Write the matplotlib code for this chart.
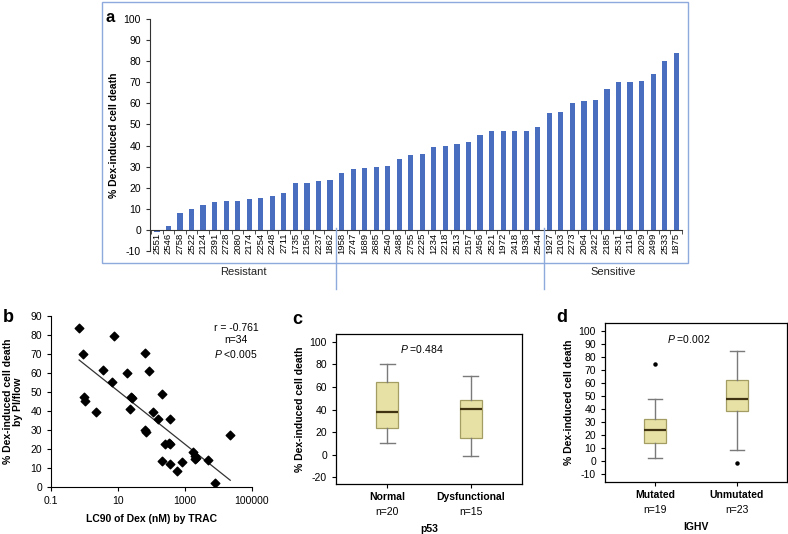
import numpy as np
import matplotlib
matplotlib.use("Agg")
import matplotlib.pyplot as plt
from matplotlib.patches import Rectangle
from matplotlib.lines import Line2D

plt.rcParams['font.family'] = ['Liberation Sans', 'DejaVu Sans']
plt.rcParams['axes.unicode_minus'] = False
plt.rcParams['mathtext.fontset'] = 'custom'
plt.rcParams['mathtext.it'] = 'Liberation Sans:italic'
plt.rcParams['mathtext.rm'] = 'Liberation Sans'

# -----------------------------
# Data
# -----------------------------
patients = ["2551", "2546", "2758", "2522", "2124", "2391", "2728", "2080", "2174", "2254",
            "2248", "2711", "1735", "2156", "2237", "1862", "1958", "2747", "1689", "2685",
            "2540", "2488", "2755", "2225", "1234", "2218", "2513", "2157", "2456", "2521",
            "1972", "2418", "1938", "2544", "1927", "2103", "2273", "2064", "2422", "2185",
            "2531", "2116", "2029", "2499", "2533", "1875"]
dex_death = [-1.2, 2.0, 8.1, 10.0, 11.8, 13.0, 13.5, 13.8, 14.6, 15.3,
             15.9, 17.7, 22.3, 22.4, 23.4, 23.6, 27.0, 28.8, 29.3, 29.6,
             30.4, 33.4, 35.5, 36.1, 39.3, 39.6, 40.6, 41.7, 44.9, 46.8,
             47.0, 47.0, 47.1, 49.0, 55.3, 56.0, 60.2, 61.3, 61.6, 66.6,
             70.2, 70.2, 70.7, 73.7, 80.1, 83.9]
resistant_end = "1862"
sensitive_start = "1927"

lc90 = [0.69, 0.885, 7.65, 62, 3.67, 85, 18.6, 6.7, 0.95, 1.04,
        2.17, 24, 27, 23, 204, 112, 155, 363, 63, 69,
        245, 324, 363, 209, 355, 575, 794, 1738, 1950, 2050,
        2188, 4900, 7600, 22400]
pi_flow = [83.5, 69.8, 79.6, 70.4, 61.8, 60.9, 60.0, 55.1, 47.4, 45.3,
           39.3, 47.4, 46.7, 41.2, 49.0, 39.6, 35.8, 35.6, 29.8, 28.8,
           22.5, 23.2, 22.5, 13.9, 11.9, 8.4, 13.3, 18.2, 16.5, 14.5,
           15.1, 14.0, 2.1, 27.2]

# box plot summaries: whislo, q1, med, q3, whishi, fliers
p53_groups = ["Normal", "Dysfunctional"]
p53_n = [20, 15]
p53_whislo = [9.8, -1.5]
p53_q1 = [23.8, 14.9]
p53_med = [37.8, 40.2]
p53_q3 = [64.3, 48.5]
p53_whishi = [80.7, 70.2]
p53_fliers = [[], []]

ighv_groups = ["Mutated", "Unmutated"]
ighv_n = [19, 23]
ighv_whislo = [2.3, 8.6]
ighv_q1 = [14.3, 38.5]
ighv_med = [24.0, 47.7]
ighv_q3 = [32.4, 62.2]
ighv_whishi = [47.4, 84.6]
ighv_fliers = [[74.4], [-1.5]]

W, H = 788, 534
fig = plt.figure(figsize=(W / 100, H / 100), dpi=100)


def px_axes(x0, y0, x1, y1):
    # pixel box (left, top, right, bottom) -> figure axes
    return fig.add_axes([x0 / W, 1 - y1 / H, (x1 - x0) / W, (y1 - y0) / H])


def px_text(x, y, s, **kw):
    fig.text(x / W, 1 - y / H, s, **kw)


# -----------------------------
# a) bar chart
# -----------------------------
bar_col = '#4A6EBF'
frame_col = '#8EA9DB'
ax = px_axes(150, 19, 682, 251)
x = np.arange(len(patients))
ax.bar(x, dex_death, width=0.45, color=bar_col)
ax.set_xlim(-0.6, len(patients) - 0.5)
ax.set_ylim(-10, 100)
ax.set_yticks(range(-10, 101, 10))
ax.spines['top'].set_visible(False)
ax.spines['right'].set_visible(False)
ax.spines['bottom'].set_position(('data', 0))
ax.spines['left'].set_color('#333333')
ax.spines['bottom'].set_color('#333333')
ax.set_xticks(x)
ax.set_xticklabels(patients, rotation=90, fontsize=6.8)
ax.set_xticks(np.arange(len(patients) + 1) - 0.5, minor=True)
ax.tick_params(axis='x', which='major', length=0, pad=2)
ax.tick_params(axis='x', which='minor', length=3, direction='out', color='#333333')
ax.tick_params(axis='y', labelsize=7.5, length=3, color='#333333')
ax.set_ylabel('% Dex-induced cell death', fontsize=7.5, fontweight='bold', labelpad=3)

fig.patches.append(Rectangle((102 / W, 1 - 263 / H), (688 - 102) / W, (263 - 2) / H,
                             transform=fig.transFigure, fill=False,
                             edgecolor=frame_col, linewidth=1.0))
for name in [resistant_end, sensitive_start]:
    i = patients.index(name)
    xb = i + 0.5 if name == resistant_end else i - 0.5
    xf = ax.transData.transform((xb, 0))[0] / fig.dpi / fig.get_figwidth()
    fig.lines.append(Line2D([xf, xf], [1 - 228 / H, 1 - 289 / H], transform=fig.transFigure,
                            color=frame_col, linewidth=1.0))
px_text(243, 272, 'Resistant', fontsize=8, ha='center', va='center', color='#222222')
px_text(613, 272, 'Sensitive', fontsize=8, ha='center', va='center', color='#222222')
px_text(110, 18, 'a', fontsize=12, fontweight='bold', ha='center', va='center')

# -----------------------------
# b) scatter LC90 vs % death
# -----------------------------
ax = px_axes(51, 316, 252, 487)
ax.scatter(lc90, pi_flow, marker='D', s=19, color='black', zorder=3)
coef = np.polyfit(np.log10(lc90), pi_flow, 1)
xl = np.array([min(lc90), max(lc90)])
ax.plot(xl, coef[0] * np.log10(xl) + coef[1], color='#333333', linewidth=0.9)
ax.set_xscale('log')
ax.set_xlim(0.1, 100000)
ax.set_ylim(0, 90)
ax.set_xticks([0.1, 10, 1000, 100000])
ax.set_xticklabels(['0.1', '10', '1000', '100000'])
ax.minorticks_off()
ax.set_yticks(range(0, 91, 10))
ax.spines['top'].set_visible(False)
ax.spines['right'].set_visible(False)
ax.tick_params(labelsize=7.5, length=3)
ax.set_xlabel('LC90 of Dex (nM) by TRAC', fontsize=7.5, fontweight='bold', labelpad=6)
ax.set_ylabel('% Dex-induced cell death\nby PI/flow', fontsize=7.5, fontweight='bold',
              labelpad=5, linespacing=1.1)
ax.text(0.92, 0.85, 'r = -0.761\nn=34\n$\\it{P}$ <0.005', transform=ax.transAxes,
        fontsize=7.5, ha='center', va='center', linespacing=1.25)
px_text(8, 318, 'b', fontsize=13, fontweight='bold', ha='center', va='center')

# -----------------------------
# c, d) box plots
# -----------------------------
box_fill = '#E7E1A6'
box_edge = '#A39D63'


def box_panel(rect, groups, n, whislo, q1, med, q3, whishi, fliers,
              ylim, yticks, ptext, title, letter, letter_xy):
    ax = px_axes(*rect)
    stats = []
    for i in range(len(groups)):
        stats.append(dict(whislo=whislo[i], q1=q1[i], med=med[i], q3=q3[i],
                          whishi=whishi[i], fliers=fliers[i]))
    ax.bxp(stats, positions=[1, 2], widths=0.26, patch_artist=True,
           boxprops=dict(facecolor=box_fill, edgecolor=box_edge, linewidth=0.9),
           medianprops=dict(color='#3F3312', linewidth=1.6),
           whiskerprops=dict(color='#7A7A7A', linewidth=1.0),
           capprops=dict(color='#7A7A7A', linewidth=1.0),
           capwidths=0.18,
           flierprops=dict(marker='o', markersize=2.2, markerfacecolor='black',
                           markeredgecolor='black'))
    ax.set_xlim(0.39, 2.61)
    ax.set_ylim(*ylim)
    ax.set_yticks(yticks)
    ax.set_xticks([1, 2])
    ax.set_xticklabels([''] * len(groups))
    ax.tick_params(labelsize=7.5, length=3)
    for sp in ax.spines.values():
        sp.set_linewidth(0.9)
    ax.set_ylabel('% Dex-induced cell death', fontsize=7.5, fontweight='bold', labelpad=3)
    for i, g in enumerate(groups):
        ax.annotate(g, xy=(i + 1, 0), xycoords=('data', 'axes fraction'),
                    xytext=(0, -9.5), textcoords='offset points',
                    ha='center', va='center', fontsize=7.5, fontweight='bold')
        ax.annotate('n=%d' % n[i], xy=(i + 1, 0), xycoords=('data', 'axes fraction'),
                    xytext=(0, -20), textcoords='offset points',
                    ha='center', va='center', fontsize=7.5)
    ax.annotate(title, xy=(0.5, 0), xycoords='axes fraction',
                xytext=(0, -32.5), textcoords='offset points',
                ha='center', va='center', fontsize=7.5, fontweight='bold')
    ax.text(0.46, 0.9, ptext, transform=ax.transAxes, fontsize=7.5,
            ha='center', va='center')
    px_text(letter_xy[0], letter_xy[1], letter, fontsize=13, fontweight='bold',
            ha='center', va='center')
    return ax


box_panel((336, 334, 522, 484), p53_groups, p53_n, p53_whislo, p53_q1, p53_med, p53_q3,
          p53_whishi, p53_fliers, (-26.2, 107.1), range(-20, 101, 20),
          '$\\it{P}$ =0.484', 'p53', 'c', (297, 320))
box_panel((605, 323, 787, 482), ighv_groups, ighv_n, ighv_whislo, ighv_q1, ighv_med, ighv_q3,
          ighv_whishi, ighv_fliers, (-15.8, 105.8), range(-10, 101, 10),
          '$\\it{P}$ =0.002', 'IGHV', 'd', (562, 318))

fig.savefig("out.png", dpi=100)
